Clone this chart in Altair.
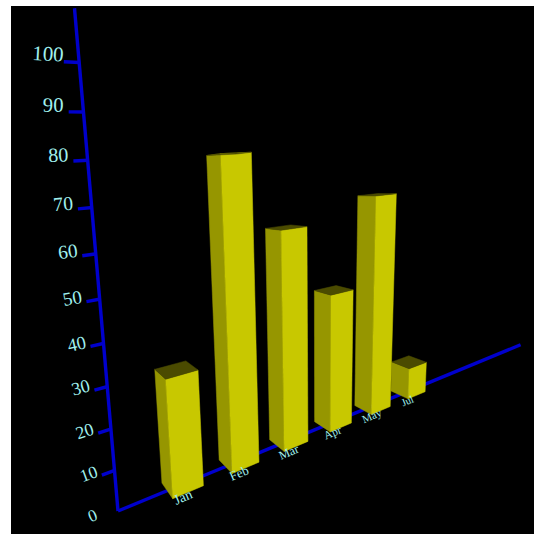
import math
import altair as alt
import pandas as pd

# Monthly values drawn as boxes in a perspective view
months = ["Jan", "Feb", "Mar", "Apr", "May", "Jul"]
values = [29.5, 80, 60, 40, 66, 10]
y_ticks = [0, 10, 20, 30, 40, 50, 60, 70, 80, 90, 100]
y_axis_top = 110.7
x_axis_end = 10

BOX_HALF = 0.25
BRIGHT, SIDE, ROOF = "#c8c800", "#969600", "#4b4b00"
AXIS_BLUE, LABEL_CYAN = "#0000cc", "#a0f0ee"


def project(x, y, z=0.0):
    """Perspective projection of (category, value, depth) to panel units."""
    px = (118 + 77.58 * x - 0.513 * y + 4.29 * z) / (1 + 0.0717 * x - 0.00161 * y - 0.11 * z)
    w = 1 + 0.0717 * x - 0.001036 * y - 0.11 * z
    py = (511 + 8.1 * x - 4.55 * y - 20.9 * z) / w
    return px, py, w


def tilt(x, y):
    """Rotation of text that runs along the category direction at (x, y)."""
    x0, y0, _ = project(x, y)
    x1, y1, _ = project(x + 1, y)
    return math.degrees(math.atan2(y1 - y0, x1 - x0)) % 360


faces = []


def add_face(name, shade, corners):
    for i, (x, y, z) in enumerate(corners + corners[:1]):
        px, py, _ = project(x, y, z)
        faces.append(dict(face=name, shade=shade, i=i, px=px, py=py))


for k, v in enumerate(values, start=1):
    a, b = k - BOX_HALF, k + BOX_HALF
    n, f = BOX_HALF, -BOX_HALF
    add_face(f"{k}s", SIDE, [(a, 0, f), (a, 0, n), (a, v, n), (a, v, f)])
    add_face(f"{k}f", BRIGHT, [(a, 0, n), (b, 0, n), (b, v, n), (a, v, n)])
    add_face(f"{k}t", ROOF, [(a, v, f), (a, v, n), (b, v, n), (b, v, f)])
faces = pd.DataFrame(faces)

rules = []


def add_rule(name, start, end):
    for i, p in enumerate((start, end)):
        px, py, _ = project(*p)
        rules.append(dict(rule=name, i=i, px=px, py=py))


add_rule("x", (0, 0), (x_axis_end, 0))
add_rule("y", (0, 0), (0, y_axis_top))
for t in y_ticks[1:]:
    add_rule(f"t{t}", (0, t), (-0.18, t))
rules = pd.DataFrame(rules)

labels = []
for t in y_ticks:
    px, py, _ = project(-0.35, t + 1.2)
    labels.append(dict(text=str(t), px=px, py=py, fs=17 + 0.04 * t, ang=tilt(-0.35, t + 1.2)))
for k, m in enumerate(months, start=1):
    px, py, w = project(k, -3.5)
    labels.append(dict(text=m, px=px, py=py, fs=15 / w, ang=tilt(k, -3.5)))
labels = pd.DataFrame(labels)

x_enc = alt.X("px:Q", scale=alt.Scale(domain=[11, 534]), axis=None)
y_enc = alt.Y("py:Q", scale=alt.Scale(domain=[534, 6]), axis=None)

axes = (
    alt.Chart(rules)
    .mark_line(color=AXIS_BLUE, strokeWidth=3.4, strokeCap="butt")
    .encode(x=x_enc, y=y_enc, detail="rule:N", order="i:Q")
)

layers = [axes]
for shade in (SIDE, BRIGHT, ROOF):
    layers.append(
        alt.Chart(faces[faces.shade == shade])
        .mark_line(fill=shade, stroke=shade, strokeWidth=0.5)
        .encode(x=x_enc, y=y_enc, detail="face:N", order="i:Q")
    )

text = (
    alt.Chart(labels)
    .mark_text(font="Liberation Serif", color=LABEL_CYAN, align="center", baseline="middle")
    .encode(
        x=x_enc,
        y=y_enc,
        text="text:N",
        size=alt.Size("fs:Q", scale=None),
        angle=alt.Angle("ang:Q", scale=None),
    )
)
layers.append(text)

chart = (
    alt.layer(*layers)
    .properties(
        width=523,
        height=528,
        background="white",
        padding={"left": 11, "top": 6, "right": 0, "bottom": 0},
        autosize=alt.AutoSizeParams(type="none"),
    )
    .configure_view(fill="black", stroke=None)
)

chart.save("out.html", embed_options={"renderer": "svg", "actions": False})
